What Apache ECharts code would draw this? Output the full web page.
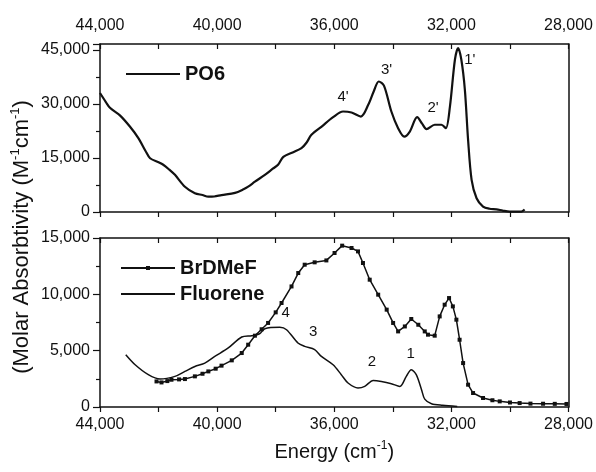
<!DOCTYPE html>
<html>
<head>
<meta charset="utf-8">
<script src="https://cdn.jsdelivr.net/npm/echarts@6/dist/echarts.min.js"></script>
<style>
  html, body { margin: 0; padding: 0; background: #fff; }
  #chart { width: 596px; height: 472px; }
</style>
</head>
<body>
<div id="chart"></div>
<script>
// Absorption spectra, energy in cm^-1 (axis runs high -> low)

// Upper panel: PO6
const po6Energy = [44000, 43800, 43660, 43320, 42980, 42690, 42450, 42290, 42000, 41840,
  41640, 41440, 41100, 40760, 40500, 40300, 40100, 39850, 39390, 39100,
  38940, 38710, 38370, 38100, 37920, 37740, 37400, 37120, 36950, 36780,
  36430, 36040, 35700, 35410, 35090, 34840, 34650, 34480, 34300, 34050,
  33820, 33610, 33420, 33170, 33000, 32850, 32570, 32340, 32190, 32050,
  31880, 31770, 31660, 31540, 31430, 31310, 31140, 30920, 30700, 30460,
  30250, 30010, 29610, 29500];
const po6Values = [33000, 30500, 28900, 26800, 23700, 20500, 17000, 14900, 13800, 13100,
  11800, 10300, 7000, 5200, 4700, 4250, 4300, 4700, 5300, 6300,
  7030, 8400, 10300, 12000, 13100, 15300, 16600, 17700, 19200, 21400,
  23700, 26300, 27870, 27590, 26480, 29720, 33500, 36200, 35000, 27870,
  23250, 20900, 22300, 26300, 24500, 23000, 24200, 24200, 23250, 29250,
  42230, 45470, 42230, 33900, 20000, 8900, 3800, 1500, 900, 750,
  400, 100, 100, 700];

// Lower panel: BrDMeF
const brEnergy = [42070, 41900, 41700, 41560, 41300, 41100, 40760, 40500, 40300, 40050,
  39850, 39500, 39160, 38940, 38710, 38480, 38260, 38000, 37800, 37460,
  37230, 37010, 36670, 36270, 35990, 35730, 35410, 35190, 35020, 34790,
  34500, 34210, 33990, 33820, 33590, 33370, 33130, 32910, 32800, 32570,
  32400, 32230, 32080, 31950, 31830, 31720, 31600, 31430, 31260, 30920,
  30600, 30350, 30000, 29670, 29300, 28870, 28470, 28070];
const brValues = [2270, 2180, 2300, 2420, 2450, 2480, 2720, 2950, 3160, 3400,
  3670, 4140, 4790, 5530, 6330, 6900, 7460, 8400, 9230, 10700,
  11890, 12630, 12840, 13010, 13670, 14320, 14110, 13810, 12780, 11300,
  9970, 8640, 7460, 6710, 7150, 7810, 7300, 6710, 6420, 6330,
  8040, 9080, 9670, 8930, 7750, 5970, 3900, 1980, 1240, 800,
  600, 500, 400, 350, 300, 290, 280, 270];

// Lower panel: Fluorene
const flEnergy = [43120, 42800, 42350, 41950, 41440, 41100, 40760, 40420, 40080, 39620,
  39160, 38820, 38550, 38370, 37860, 37630, 37240, 37010, 36670, 36440,
  36040, 35760, 35530, 35190, 34960, 34670, 34390, 34050, 33760, 33540,
  33370, 33200, 33020, 32910, 32680, 32300, 31800];
const flValues = [4640, 3750, 2870, 2480, 2720, 3160, 3600, 3900, 4490, 5240,
  6210, 6330, 6500, 6950, 7070, 6860, 5680, 5380, 5090, 4490,
  3750, 2870, 2130, 1690, 1830, 2360, 2270, 2070, 1830, 2720,
  3310, 2870, 1540, 700, 290, 150, 50];

// Band labels
const topBandLabels = ["1'", "2'", "3'", "4'"];
const topBandEnergy = [31370, 32625, 34215, 35700];
const topBandValue = [42220, 28800, 39450, 31860];
const lowBandLabels = ["1", "2", "3", "4"];
const lowBandEnergy = [33390, 34710, 36720, 37660];
const lowBandValue = [4730, 4050, 6710, 8400];

const FONT = "'Liberation Sans', Arial, Helvetica, sans-serif";
const INK = '#111';

function zip(xs, ys) { return xs.map((x, i) => [x, ys[i]]); }
function commas(v) { return String(v).replace(/\B(?=(\d{3})+(?!\d))/g, ','); }
function bandPoints(labels, xs, ys) {
  return labels.map((t, i) => ({ coord: [xs[i], ys[i]], value: t }));
}

const axisLine = { show: true, onZero: false, lineStyle: { color: INK, width: 1.5 } };
const labelStyle = { color: INK, fontFamily: FONT, fontSize: 16 };

function energyAxis(grid, position, showLabels, inside) {
  return {
    type: 'value', gridIndex: grid, position: position,
    min: 28000, max: 44000, interval: 4000, inverse: true,
    axisLine: axisLine,
    axisTick: { show: true, inside: inside, length: 5, lineStyle: { color: INK, width: 1.2 } },
    minorTick: { show: true, splitNumber: 2, length: 5, lineStyle: { color: INK, width: 1.2 } },
    axisLabel: Object.assign({ show: showLabels, margin: 10, formatter: commas }, labelStyle),
    splitLine: { show: false }, minorSplitLine: { show: false }
  };
}
function valueAxis(grid, max, interval) {
  return {
    type: 'value', gridIndex: grid, position: 'left',
    min: 0, max: max, interval: interval,
    axisLine: axisLine,
    axisTick: { show: true, length: 7, lineStyle: { color: INK, width: 1.2 } },
    minorTick: { show: true, splitNumber: 2, length: 4, lineStyle: { color: INK, width: 1.2 } },
    axisLabel: Object.assign({ margin: 10, showMaxLabel: max % interval === 0,
      formatter: v => (v % interval === 0 ? commas(v) : '') }, labelStyle),
    splitLine: { show: false }, minorSplitLine: { show: false }
  };
}
function frameAxis(grid, max) {
  return {
    type: 'value', gridIndex: grid, position: 'right', min: 0, max: max,
    axisLine: axisLine, axisTick: { show: false }, axisLabel: { show: false },
    splitLine: { show: false }
  };
}

const bandLabel = { show: true, position: 'inside', color: INK, fontFamily: FONT, fontSize: 15,
  formatter: p => p.value };
const supRich = {
  n: { fontFamily: FONT, fontSize: 20, color: INK, lineHeight: 24 },
  s: { fontFamily: FONT, fontSize: 12, color: INK, verticalAlign: 'top', lineHeight: 24, padding: [0, 0, 8, 0] }
};
const lineIcon = 'path://M0,0H54V2H0Z';

const option = {
  animation: false,
  backgroundColor: '#fff',
  grid: [
    { left: 100, top: 44, width: 469, height: 168 },
    { left: 100, top: 238, width: 469, height: 169 }
  ],
  xAxis: [
    energyAxis(0, 'bottom', false, false),
    energyAxis(0, 'top', true, true),
    energyAxis(1, 'top', false, true),
    Object.assign(energyAxis(1, 'bottom', true, false), {
      name: '{n|Energy (cm}{s|-1}{n|)}',
      nameLocation: 'middle', nameGap: 33,
      nameTextStyle: { rich: supRich }
    })
  ],
  yAxis: [
    valueAxis(0, 46600, 15000),
    frameAxis(0, 46600),
    valueAxis(1, 15000, 5000),
    frameAxis(1, 15000)
  ],
  legend: [
    {
      data: [{ name: 'PO6', icon: lineIcon }],
      left: 121, top: 59, itemWidth: 54, itemHeight: 5,
      textStyle: { fontFamily: FONT, fontSize: 20, fontWeight: 'bold', color: INK }
    },
    {
      data: [{ name: 'BrDMeF' }, { name: 'Fluorene', icon: lineIcon }],
      orient: 'vertical', left: 115, top: 253, itemWidth: 54, itemHeight: 5, itemGap: 6,
      textStyle: { fontFamily: FONT, fontSize: 20, fontWeight: 'bold', color: INK }
    }
  ],
  graphic: [{
    type: 'text', x: 22, y: 237, rotation: Math.PI / 2,
    style: {
      text: '{n|(Molar Absorbtivity (M}{s|-1}{n|cm}{s|-1}{n|)}',
      align: 'center', verticalAlign: 'middle',
      rich: {
        n: { fontFamily: FONT, fontSize: 22, fill: INK, lineHeight: 27 },
        s: { fontFamily: FONT, fontSize: 13, fill: INK, verticalAlign: 'top', lineHeight: 27, padding: [0, 0, 9, 0] }
      }
    }
  }],
  series: [
    {
      name: 'PO6', type: 'line', xAxisIndex: 0, yAxisIndex: 0,
      data: zip(po6Energy, po6Values), smooth: 0.3, symbol: 'none',
      lineStyle: { color: INK, width: 2.2 }, itemStyle: { color: INK },
      markPoint: { symbol: 'circle', symbolSize: 0, label: bandLabel,
        data: bandPoints(topBandLabels, topBandEnergy, topBandValue) }
    },
    {
      name: 'BrDMeF', type: 'line', xAxisIndex: 3, yAxisIndex: 2,
      data: zip(brEnergy, brValues), symbol: 'rect', symbolSize: 4, showAllSymbol: true,
      lineStyle: { color: INK, width: 1.5 }, itemStyle: { color: INK }
    },
    {
      name: 'Fluorene', type: 'line', xAxisIndex: 3, yAxisIndex: 2,
      data: zip(flEnergy, flValues), smooth: 0.3, symbol: 'none',
      lineStyle: { color: INK, width: 1.5 }, itemStyle: { color: INK },
      markPoint: { symbol: 'circle', symbolSize: 0, label: bandLabel,
        data: bandPoints(lowBandLabels, lowBandEnergy, lowBandValue) }
    }
  ]
};

const chart = echarts.init(document.getElementById('chart'), null, { renderer: 'canvas' });
chart.setOption(option);
</script>
</body>
</html>
